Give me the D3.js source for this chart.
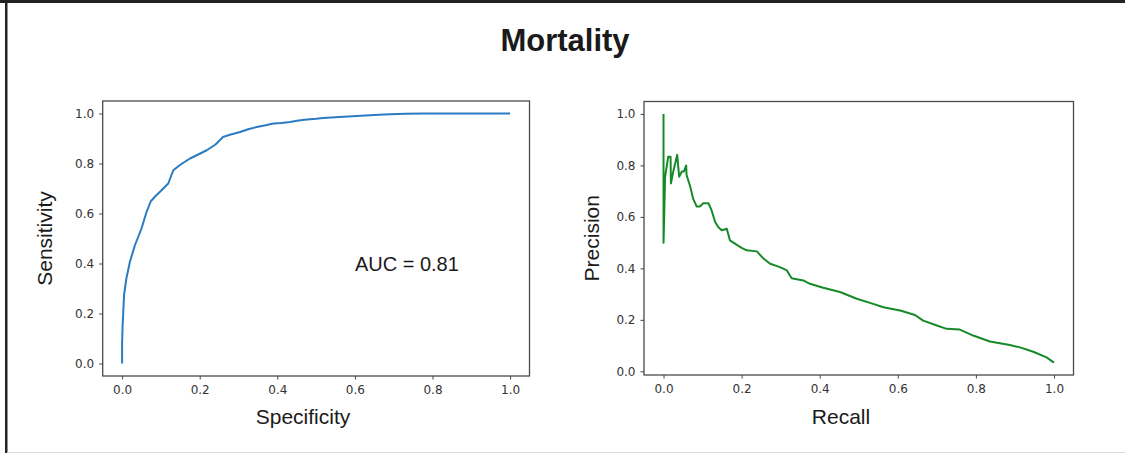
<!DOCTYPE html>
<html>
<head>
<meta charset="utf-8">
<script src="https://cdn.jsdelivr.net/npm/d3@7"></script>
<style>
	body { margin: 0; background: #fff; }
	svg { display: block; }
</style>
</head>
<body>
<div id="chart"></div>
<script>
// ROC curve (false positive rate on x, labelled "Specificity")
const rocX = [0, 0, 0.001, 0.005, 0.011, 0.02, 0.033, 0.05, 0.063, 0.074, 0.085, 0.097, 0.108, 0.119, 0.125, 0.132, 0.15, 0.175, 0.195, 0.218, 0.24, 0.26, 0.28, 0.304, 0.325, 0.347, 0.37, 0.39, 0.41, 0.433, 0.455, 0.476, 0.5, 0.518, 0.56, 0.605, 0.65, 0.69, 0.73, 0.776, 0.85, 0.92, 1.0];
const rocY = [0, 0.08, 0.14, 0.273, 0.34, 0.406, 0.473, 0.54, 0.606, 0.649, 0.668, 0.686, 0.703, 0.72, 0.745, 0.773, 0.795, 0.82, 0.835, 0.853, 0.875, 0.906, 0.916, 0.926, 0.937, 0.946, 0.953, 0.96, 0.962, 0.966, 0.972, 0.976, 0.979, 0.982, 0.986, 0.99, 0.994, 0.997, 0.999, 1.0, 1.0, 1.0, 1.0];

// Precision-recall curve
const prX = [0, 0, 0.002, 0.004, 0.012, 0.018, 0.019, 0.025, 0.035, 0.04, 0.047, 0.052, 0.058, 0.059, 0.068, 0.076, 0.085, 0.093, 0.102, 0.115, 0.123, 0.132, 0.14, 0.149, 0.162, 0.17, 0.187, 0.2, 0.213, 0.239, 0.256, 0.273, 0.298, 0.316, 0.328, 0.358, 0.375, 0.409, 0.452, 0.495, 0.537, 0.563, 0.606, 0.644, 0.665, 0.7, 0.725, 0.759, 0.793, 0.836, 0.887, 0.913, 0.947, 0.981, 1.0];
const prY = [1.0, 0.5, 0.62, 0.756, 0.834, 0.834, 0.73, 0.776, 0.841, 0.756, 0.776, 0.776, 0.8, 0.763, 0.72, 0.67, 0.64, 0.64, 0.653, 0.653, 0.626, 0.581, 0.561, 0.548, 0.554, 0.509, 0.492, 0.48, 0.47, 0.466, 0.438, 0.418, 0.405, 0.392, 0.362, 0.353, 0.34, 0.325, 0.308, 0.282, 0.262, 0.249, 0.236, 0.219, 0.197, 0.178, 0.165, 0.162, 0.139, 0.116, 0.102, 0.093, 0.076, 0.054, 0.034];

const tickValues = [0, 0.2, 0.4, 0.6, 0.8, 1.0];

const titleText = "Mortality";
const aucText = "AUC = 0.81";

const width = 1125;
const height = 455;

const labelFont = "Liberation Sans, Arial, sans-serif";

const svg = d3.select("#chart")
	.append("svg")
	.attr("width", width)
	.attr("height", height);

// Outer frame of the figure
svg.append("rect")
	.attr("x", 0).attr("y", 0)
	.attr("width", width).attr("height", 3)
	.attr("fill", "#222");
svg.append("rect")
	.attr("x", 5).attr("y", 0)
	.attr("width", 2.5).attr("height", 453)
	.attr("fill", "#222");
svg.append("rect")
	.attr("x", 7).attr("y", 452)
	.attr("width", width - 7).attr("height", 1)
	.attr("fill", "#dcdcdc");

svg.append("text")
	.attr("x", 565)
	.attr("y", 51)
	.attr("text-anchor", "middle")
	.attr("font-family", labelFont)
	.attr("font-weight", "bold")
	.attr("font-size", "31px")
	.attr("fill", "#1a1a1a")
	.text(titleText);

// matplotlib style auto margins: 5% of data span on each side
function padded(values) {
	const [lo, hi] = d3.extent(values);
	const pad = (hi - lo) * 0.05;
	return [lo - pad, hi + pad];
}

function drawPanel(box, xs, ys, color, xLabel, yLabel) {
	const xScale = d3.scaleLinear().domain(padded(xs)).range([box.left, box.right]);
	const yScale = d3.scaleLinear().domain(padded(ys)).range([box.bottom, box.top]);

	const g = svg.append("g");

	const xGroup = g.append("g")
		.attr("transform", `translate(0, ${box.bottom})`)
		.call(d3.axisBottom(xScale).tickValues(tickValues).tickFormat(d3.format(".1f")).tickSize(3.5).tickPadding(5.5));

	const yGroup = g.append("g")
		.attr("transform", `translate(${box.left}, 0)`)
		.call(d3.axisLeft(yScale).tickValues(tickValues).tickFormat(d3.format(".1f")).tickSize(3.5).tickPadding(5));

	[xGroup, yGroup].forEach(axis => {
		axis.select(".domain").remove();
		axis.selectAll("line").attr("stroke", "#444");
		axis.selectAll("text")
			.attr("font-family", "DejaVu Sans, sans-serif")
			.attr("font-size", "12px")
			.attr("fill", "#333");
	});

	const line = d3.line()
		.x((d, i) => xScale(xs[i]))
		.y((d, i) => yScale(ys[i]));

	g.append("path")
		.attr("d", line(xs))
		.attr("fill", "none")
		.attr("stroke", color)
		.attr("stroke-width", 2)
		.attr("stroke-linejoin", "round");

	// Axes box
	g.append("rect")
		.attr("x", box.left)
		.attr("y", box.top)
		.attr("width", box.right - box.left)
		.attr("height", box.bottom - box.top)
		.attr("fill", "none")
		.attr("stroke", "#4a4a4a")
		.attr("stroke-width", 1.3);

	g.append("text")
		.attr("x", box.xLabelX)
		.attr("y", 424)
		.attr("text-anchor", "middle")
		.attr("font-family", labelFont)
		.attr("font-size", "21px")
		.attr("fill", "#1a1a1a")
		.text(xLabel);

	g.append("text")
		.attr("transform", `translate(${box.yLabelX}, ${(box.top + box.bottom) / 2}) rotate(-90)`)
		.attr("text-anchor", "middle")
		.attr("font-family", labelFont)
		.attr("font-size", "21px")
		.attr("fill", "#1a1a1a")
		.text(yLabel);

	return { xScale, yScale };
}

const roc = drawPanel(
	{ left: 102.7, right: 529.5, top: 101, bottom: 376, xLabelX: 303, yLabelX: 52 },
	rocX, rocY, "#2b7bc2", "Specificity", "Sensitivity"
);

drawPanel(
	{ left: 644, right: 1073.5, top: 101.5, bottom: 375, xLabelX: 841, yLabelX: 599 },
	prX, prY, "#178a28", "Recall", "Precision"
);

svg.append("text")
	.attr("x", roc.xScale(0.6))
	.attr("y", roc.yScale(0.4))
	.attr("dy", "0.35em")
	.attr("font-family", labelFont)
	.attr("font-size", "20px")
	.attr("fill", "#1a1a1a")
	.text(aucText);
</script>
</body>
</html>
